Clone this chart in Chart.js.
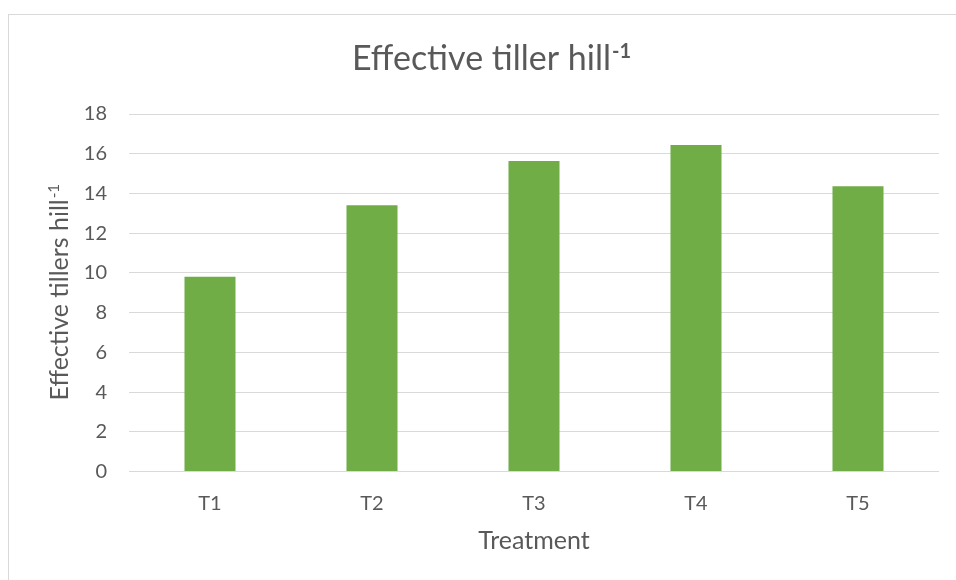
<!DOCTYPE html>
<html>
<head>
<meta charset="utf-8">
<script src="https://cdn.jsdelivr.net/npm/chart.js@4/dist/chart.umd.min.js"></script>
<style>
  html, body { margin: 0; padding: 0; background: #ffffff; }
  #wrap { width: 956px; height: 580px; position: relative; }
</style>
</head>
<body>
<div id="wrap"><canvas id="c" width="956" height="580"></canvas></div>
<script>
// Effective tillers per hill for each treatment
const treatments = ['T1', 'T2', 'T3', 'T4', 'T5'];
const effectiveTillers = [9.8, 13.4, 15.63, 16.44, 14.36];
const yTicks = [0, 2, 4, 6, 8, 10, 12, 14, 16, 18];

const chartTitle = 'Effective tiller hill';
const yTitle = 'Effective tillers hill';
const xTitle = 'Treatment';
const unitSup = '-1';

const FONT = 'Lato, "Open Sans", sans-serif';
const TEXT = '#595959';
const GRID = '#d9d9d9';
const BAR = '#70ad47';

// draws "base" followed by a raised, smaller "sup", centred on cx at baseline y
function drawWithSup(ctx, base, sup, size, supBold, cx, y) {
  ctx.font = size + 'px ' + FONT;
  const wb = ctx.measureText(base).width;
  const supSize = Math.round(size * 0.6);
  const supFont = (supBold ? 'bold ' : '') + supSize + 'px ' + FONT;
  ctx.font = supFont;
  const ws = ctx.measureText(sup).width;
  const start = cx - (wb + ws) / 2;
  ctx.textAlign = 'left';
  ctx.textBaseline = 'alphabetic';
  ctx.font = size + 'px ' + FONT;
  ctx.fillText(base, start, y);
  ctx.font = supFont;
  ctx.fillText(sup, start + wb + 1, y - size * 0.36);
}

const frameAndTitles = {
  id: 'frameAndTitles',
  beforeDraw(chart) {
    const ctx = chart.ctx;
    ctx.save();
    ctx.fillStyle = '#ffffff';
    ctx.fillRect(0, 0, chart.width, chart.height);
    ctx.strokeStyle = GRID;
    ctx.lineWidth = 1;
    ctx.strokeRect(8.5, 14.5, 1200, 1200);
    ctx.restore();
  },
  afterDraw(chart) {
    const ctx = chart.ctx;
    const area = chart.chartArea;
    ctx.save();
    ctx.fillStyle = TEXT;
    // chart title
    drawWithSup(ctx, chartTitle, unitSup, 34, true, 491, 70);
    // x axis title
    ctx.font = '25px ' + FONT;
    ctx.textAlign = 'center';
    ctx.textBaseline = 'alphabetic';
    ctx.fillText(xTitle, (area.left + area.right) / 2, 549);
    // y axis title, rotated
    ctx.translate(68, (area.top + area.bottom) / 2);
    ctx.rotate(-Math.PI / 2);
    drawWithSup(ctx, yTitle, unitSup, 25, false, 0, 0);
    ctx.restore();
  }
};

new Chart(document.getElementById('c'), {
  type: 'bar',
  data: {
    labels: treatments,
    datasets: [{
      data: effectiveTillers,
      backgroundColor: BAR,
      borderWidth: 0,
      categoryPercentage: 1,
      barPercentage: 0.315
    }]
  },
  options: {
    responsive: false,
    animation: false,
    devicePixelRatio: 1,
    layout: { padding: { top: 114, right: 17, left: 0, bottom: 0 } },
    plugins: {
      legend: { display: false },
      title: { display: false },
      tooltip: { enabled: false }
    },
    scales: {
      x: {
        grid: { display: false },
        border: { display: false },
        ticks: { color: TEXT, font: { family: FONT, size: 20 }, padding: 12 },
        afterFit(scale) { scale.height = 108.5; }
      },
      y: {
        min: 0,
        max: 18,
        afterBuildTicks(scale) { scale.ticks = yTicks.map(v => ({ value: v })); },
        grid: { color: GRID, lineWidth: 1, drawTicks: false },
        border: { display: false },
        ticks: { color: TEXT, font: { family: FONT, size: 20 }, padding: 22 },
        afterFit(scale) { scale.width = 129; }
      }
    }
  },
  plugins: [frameAndTitles]
});
</script>
</body>
</html>
